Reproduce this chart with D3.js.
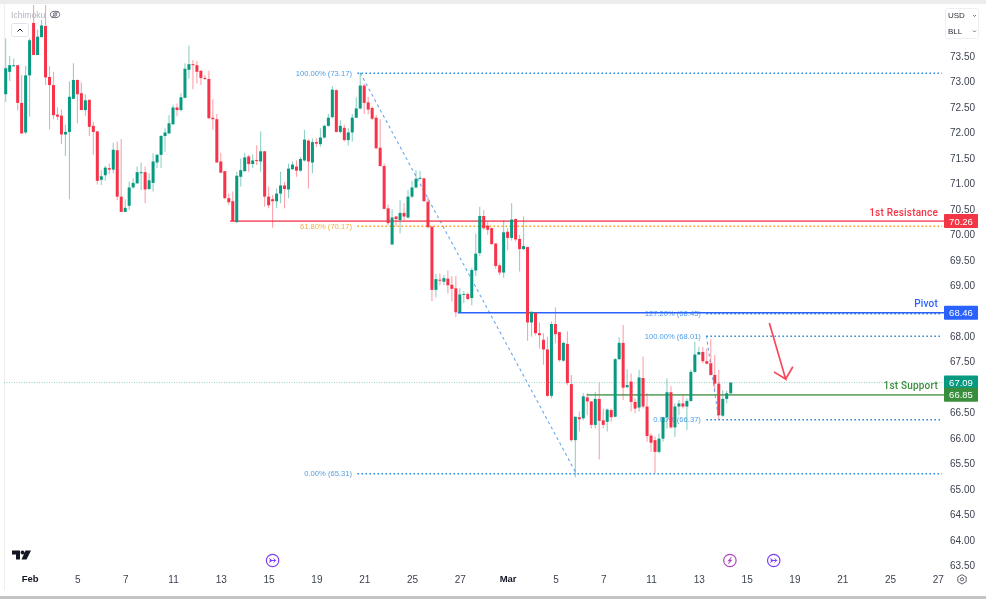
<!DOCTYPE html>
<html><head><meta charset="utf-8">
<script src="https://cdn.jsdelivr.net/npm/d3@7"></script>
<style>html,body{margin:0;padding:0;background:#fff;overflow:hidden}svg{display:block;filter:blur(.3px)}text{font-family:"Liberation Sans",Roboto,sans-serif}</style>
</head><body><svg id="c" width="986" height="599"></svg>
<script>
const opens=[72.75,73.19,73.30,73.32,72.58,72.00,73.12,74.15,73.52,73.87,74.09,73.09,72.93,72.35,72.33,71.96,72.01,72.66,73.03,72.77,72.44,72.64,72.13,72.02,71.07,71.16,71.30,71.27,71.65,70.74,70.44,70.56,70.92,71.00,71.21,71.22,70.89,71.01,71.41,71.56,71.93,71.98,72.16,72.49,72.44,72.68,73.23,73.34,73.32,73.21,73.07,73.05,72.29,72.26,71.43,71.24,70.71,70.65,70.24,71.13,71.24,71.53,71.38,71.46,71.43,71.63,70.74,70.69,70.65,70.80,70.96,70.88,71.28,71.33,71.25,71.45,71.84,71.41,71.81,71.77,71.90,72.13,72.30,72.83,72.01,72.09,71.85,72.00,72.29,72.47,72.92,72.59,72.48,72.29,71.70,71.34,70.51,69.80,70.35,70.28,70.42,70.33,70.74,70.92,71.10,71.10,70.64,70.15,68.91,69.11,69.07,69.13,69.01,68.94,68.47,68.82,68.83,68.75,69.29,69.63,70.36,70.17,70.12,69.82,69.39,69.25,70.05,69.93,70.30,69.91,69.71,69.75,68.27,68.46,68.06,67.93,67.74,66.83,68.24,68.08,67.52,67.85,67.06,65.96,66.41,66.39,66.80,66.72,66.26,66.77,66.35,66.32,66.55,66.42,67.55,67.87,67.00,67.11,66.71,66.60,67.18,66.62,66.05,65.96,65.73,65.99,66.41,66.90,66.21,66.62,66.68,66.62,66.73,67.30,67.64,67.69,67.51,67.47,67.24,67.07,66.44,66.77,66.88];
const highs=[73.85,73.50,73.45,73.32,73.13,73.31,73.85,74.50,74.02,74.21,74.50,73.30,73.19,72.49,72.45,72.15,73.00,73.36,73.04,72.98,72.75,72.65,72.21,72.03,71.26,71.34,71.39,71.80,71.82,71.87,70.69,71.03,71.10,71.33,71.41,71.33,71.20,71.59,71.58,71.95,72.08,72.34,72.55,72.57,72.77,73.36,73.70,73.42,73.40,73.23,73.13,73.21,72.65,72.36,71.60,71.24,70.80,70.84,71.23,71.49,71.60,71.56,71.56,71.75,72.02,71.64,70.94,70.77,70.90,71.23,71.03,71.39,71.43,71.45,71.52,72.05,71.86,71.88,71.88,72.08,72.15,72.36,72.91,72.85,72.24,72.15,72.08,72.36,72.69,73.16,72.96,72.70,72.51,72.34,72.26,71.39,70.58,70.49,70.36,70.67,70.61,70.87,71.05,71.26,71.25,71.10,70.74,70.16,69.22,69.23,69.20,69.29,69.18,69.18,68.94,68.89,68.86,69.35,70.01,70.54,70.48,70.25,70.14,69.82,69.43,70.28,70.12,70.61,70.31,69.99,70.35,69.76,68.48,68.46,68.27,68.06,67.99,68.29,68.57,68.09,67.89,68.10,67.24,66.42,66.52,66.88,66.88,66.72,66.91,67.08,66.58,66.58,66.58,67.57,67.98,68.22,67.35,67.27,66.78,67.34,67.60,66.88,66.09,66.03,66.09,66.42,67.17,67.02,66.68,66.75,66.85,66.78,67.34,67.89,67.79,67.79,67.76,67.94,67.63,67.34,66.94,66.93,67.09];
const lows=[72.60,73.01,73.29,72.43,71.98,71.96,72.31,73.52,73.52,73.87,72.93,72.06,72.26,72.24,71.77,71.54,70.69,72.66,72.18,72.44,72.33,71.93,71.56,70.98,70.97,71.05,71.18,71.20,70.67,70.44,70.44,70.48,70.90,71.00,70.87,70.61,70.87,70.84,71.30,71.30,71.62,71.98,72.15,72.32,72.41,72.67,73.06,72.85,72.96,72.93,73.03,72.26,72.05,71.41,71.20,70.69,70.58,70.25,70.22,70.94,71.23,71.23,71.30,71.36,71.23,70.54,70.51,70.13,70.51,70.61,70.51,70.71,71.26,71.13,71.23,71.43,70.90,71.20,71.72,71.72,71.88,72.11,72.28,72.00,71.98,71.82,71.74,71.82,72.28,72.45,72.36,72.36,72.24,71.67,71.33,70.49,70.18,69.80,70.16,70.02,70.28,70.31,70.71,70.90,71.07,70.64,70.12,68.69,68.76,69.00,69.00,68.84,68.68,68.37,68.45,68.65,68.71,68.61,69.18,69.57,70.09,69.99,69.79,69.33,69.20,69.15,69.69,69.88,69.86,69.27,69.69,67.91,67.99,68.02,67.76,67.44,66.81,66.78,67.86,67.50,67.50,67.04,65.93,65.23,66.13,66.35,66.45,66.19,66.19,65.58,66.19,66.13,66.32,66.41,67.53,66.75,66.98,66.52,66.49,66.52,66.58,65.93,65.73,65.31,65.70,65.93,66.19,66.19,66.02,66.45,66.58,66.16,66.71,67.28,67.63,67.47,67.45,67.23,66.94,66.37,66.42,66.68,66.87];
const closes=[73.26,73.32,73.32,72.58,71.98,73.12,73.81,73.52,73.88,74.10,73.08,72.93,72.34,72.31,71.96,72.01,72.70,73.03,72.75,72.44,72.63,72.11,72.01,71.05,71.14,71.31,71.27,71.66,70.74,70.44,70.52,70.92,71.01,71.22,71.22,70.88,71.06,71.43,71.56,71.93,72.00,72.18,72.49,72.44,72.69,73.25,73.34,73.32,73.19,73.07,73.05,72.28,72.26,71.41,71.21,70.71,70.63,70.26,71.15,71.26,71.51,71.38,71.45,71.45,71.63,70.74,70.57,70.65,70.80,70.96,70.89,71.29,71.37,71.25,71.48,71.86,71.43,71.81,71.78,71.90,72.13,72.29,72.84,72.01,72.13,71.85,72.00,72.29,72.47,72.92,72.58,72.45,72.27,71.69,71.34,70.50,70.22,70.33,70.30,70.42,70.35,70.74,70.92,71.09,71.11,70.65,70.14,68.91,69.12,69.09,69.14,69.00,68.93,68.47,68.82,68.83,68.73,69.30,69.62,70.36,70.12,70.09,69.81,69.38,69.25,70.04,69.93,70.29,69.90,69.71,69.77,68.27,68.48,68.06,68.02,67.74,66.83,68.24,68.04,67.53,67.87,67.08,65.96,66.42,66.37,66.82,66.72,66.26,66.77,66.34,66.26,66.56,66.41,67.55,67.87,66.99,67.04,66.71,66.58,67.19,66.62,66.04,65.91,65.73,65.99,66.41,66.90,66.21,66.62,66.68,66.62,66.73,67.30,67.64,67.69,67.51,67.46,67.24,67.07,66.45,66.77,66.88,67.09];

const priceTicks=[73.5,73,72.5,72,71.5,71,70.5,70,69.5,69,68,67.5,66.5,66,65.5,65,64.5,64,63.5];
const timeIdx=[6,18,30,42,54,66,78,90,102,114,126,138,150,162,174,186,198,210,222,234];
const timeLabels=["Feb","5","7","11","13","15","19","21","25","27","Mar","5","7","11","13","15","19","21","25","27"];
const fibPrices=[73.17,70.17,65.31,68.45,68.01,66.37];
const fibText=["100.00% (73.17)","61.80% (70.17)","0.00% (65.31)","127.20% (68.45)","100.00% (68.01)","0.00% (66.37)"];
const fibStart=[88.3,88.3,88.3,175.9,175.9,175.9];
const fibColors=["#2f8de4","#f0a020","#2f8de4","#2f8de4","#2f8de4","#2f8de4"];
const levelPrices=[70.26,68.46,66.85];
const levelNames=["1st Resistance","Pivot","1st Support"];
const levelStart=[56.3,113.5,145.9];
const levelColors=["#f23645","#2962ff","#388e3c"];
const lastPrice=67.09;
const diagonals=[[89,73.17,143.2,65.31],[175.9,68.01,179,66.37]];
const arrowPts=[[191.7,68.26],[195.8,67.16],[192.85,67.30],[195.8,67.16],[197.6,67.40]];
const markerIdx=[67,181.8,192.8];
const markerColors=["#7e3ff2","#ab47bc","#7e3ff2"];

const x=d3.scaleLinear().domain([0,182]).range([5.7,730.7]);
const y=d3.scaleLinear().domain([73,64]).range([81.5,540]);
const svg=d3.select("#c");
const defs=svg.append("defs");
defs.append("clipPath").attr("id","plot").append("rect").attr("x",4).attr("y",5).attr("width",941).attr("height",563);
defs.append("clipPath").attr("id","pa").append("rect").attr("x",945).attr("y",40).attr("width",41).attr("height",529);

svg.append("rect").attr("width",986).attr("height",4).attr("fill","#ececec");
svg.append("rect").attr("y",596).attr("width",986).attr("height",3).attr("fill","#c4c4c4");
svg.append("line").attr("x1",4.5).attr("x2",4.5).attr("y1",4).attr("y2",590).attr("stroke","#eeeeee");

const plot=svg.append("g").attr("clip-path","url(#plot)");
// fib
plot.selectAll(".diag").data(diagonals).join("line").attr("x1",d=>x(d[0])).attr("y1",d=>y(d[1])).attr("x2",d=>x(d[2])).attr("y2",d=>y(d[3]))
 .attr("stroke","#6aa8ec").attr("stroke-width",1.1).attr("stroke-dasharray","3 3");
plot.selectAll(".fib").data(fibPrices).join("line").attr("x1",(d,i)=>x(fibStart[i])).attr("x2",942).attr("y1",d=>y(d)+.5).attr("y2",d=>y(d)+.5)
 .attr("stroke",(d,i)=>fibColors[i]).attr("stroke-width",1.5).attr("stroke-dasharray","1.6 2.4");
plot.selectAll(".fibt").data(fibPrices).join("text").attr("x",(d,i)=>x(fibStart[i])-5.5).attr("y",d=>y(d)+3).attr("text-anchor","end")
 .attr("font-size",7.6).attr("fill",(d,i)=>fibColors[i]).attr("fill-opacity",.85).text((d,i)=>fibText[i]);
// current price
plot.append("line").attr("x1",4).attr("x2",945).attr("y1",y(lastPrice)).attr("y2",y(lastPrice)).attr("stroke","#089981").attr("stroke-opacity",.45).attr("stroke-dasharray","1 1.5");
// levels
plot.selectAll(".lvl").data(levelPrices).join("line").attr("x1",(d,i)=>x(levelStart[i])).attr("x2",945).attr("y1",d=>y(d)).attr("y2",d=>y(d))
 .attr("stroke",(d,i)=>levelColors[i]).attr("stroke-width",(d,i)=>i==1?1.6:1.8).attr("stroke-opacity",(d,i)=>i==1?1:.75);
plot.selectAll(".lvlt").data(levelPrices).join("text").attr("x",938).attr("y",d=>y(d)-5.5).attr("text-anchor","end")
 .attr("font-size",10).attr("font-weight",500).style("font-family","Roboto").attr("letter-spacing",.2).attr("fill",(d,i)=>levelColors[i]).text((d,i)=>levelNames[i]);
// candles
const idx=d3.range(opens.length);
const col=i=>closes[i]>=opens[i]?"#089981":"#f7334a";
const g=plot.append("g");
g.selectAll(".w").data(idx).join("line").attr("x1",i=>x(i)).attr("x2",i=>x(i)).attr("y1",i=>y(highs[i])).attr("y2",i=>y(lows[i]))
 .attr("stroke",col).attr("stroke-opacity",.45).attr("stroke-width",1.1);
g.selectAll(".b").data(idx).join("rect").attr("x",i=>x(i)-1.5).attr("width",3)
 .attr("y",i=>y(Math.max(opens[i],closes[i]))).attr("height",i=>Math.max(1,Math.abs(y(opens[i])-y(closes[i])))).attr("fill",col);
// arrow
plot.append("path").attr("d",d3.line().x(d=>x(d[0])).y(d=>y(d[1]))(arrowPts)).attr("fill","none").attr("stroke","#f7334a").attr("stroke-width",1.7).attr("stroke-opacity",.9);

// price axis
const pa=svg.append("g").attr("clip-path","url(#pa)");
const yAxis=d3.axisRight(y).tickValues(priceTicks).tickSize(0).tickPadding(0).tickFormat(d3.format(".2f"));
const yg=pa.append("g").attr("transform","translate(950,0)").call(yAxis);
yg.select(".domain").remove();
yg.selectAll("text").attr("font-size",10).attr("font-family",'"Liberation Sans"').attr("fill","#3d4250");

// price tags
const tagP=[70.26,68.46,67.09,66.85];
const tagC=["#f23645","#2962ff","#089981","#388e3c"];
const tags=svg.append("g");
tags.selectAll("rect").data(tagP).join("rect").attr("x",944).attr("width",34).attr("height",14).attr("y",d=>y(d)-7).attr("rx",1).attr("fill",(d,i)=>tagC[i]);
tags.selectAll("text").data(tagP).join("text").attr("x",961).attr("y",d=>y(d)+3.5).attr("text-anchor","middle").attr("font-size",9.5).attr("fill","#fff").text(d=>d.toFixed(2));

// time axis
const xAxis=d3.axisBottom(x).tickValues(timeIdx).tickSize(0).tickPadding(0).tickFormat((d,i)=>timeLabels[i]);
const xg=svg.append("g").attr("transform","translate(0,575.5)").call(xAxis);
xg.select(".domain").remove();
xg.selectAll("text").attr("font-size",10).attr("font-family",'"Liberation Sans"').attr("fill","#3d4250")
 .attr("font-size",(d,i)=>timeLabels[i]=="Feb"||timeLabels[i]=="Mar"?9.5:10)
 .attr("font-weight",(d,i)=>timeLabels[i]=="Feb"||timeLabels[i]=="Mar"?"bold":null).style("fill",(d,i)=>timeLabels[i]=="Feb"||timeLabels[i]=="Mar"?"#131722":null);

// event markers
const mk=svg.append("g");
mk.selectAll("circle").data(markerIdx).join("circle").attr("cx",d=>x(d)).attr("cy",560.5).attr("r",6.2).attr("fill","#fff").attr("stroke",(d,i)=>markerColors[i]).attr("stroke-width",1.2);
mk.selectAll("path").data(markerIdx).join("path").attr("transform",d=>`translate(${x(d)},560.5)`)
 .attr("d",(d,i)=>i==1?"M1.5,-3.5L-2,0.6H0L-1.5,3.5L2,-0.6H0Z":"M-3.5,-2L-0.5,0L-3.5,2M-3,0H3M1,-2L3,0L1,2")
 .attr("fill",(d,i)=>i==1?markerColors[i]:"none").attr("stroke",(d,i)=>markerColors[i]).attr("stroke-width",(d,i)=>i==1?.5:1);

// TV logo
svg.append("path").attr("d","M12,550.5H20V559.5H16V554.5H12ZM22.5,550.6a1.9,1.9 0 1 0 .01,0ZM25.5,550.5H31L26.5,559.5H21.5Z").attr("fill","#131722");

// settings icon
svg.append("path").attr("d","M962,574.6L966.2,577V581.6L962,584L957.8,581.6V577Z").attr("fill","none").attr("stroke","#50535e").attr("stroke-width",.9);
svg.append("circle").attr("cx",962).attr("cy",579.3).attr("r",1.6).attr("fill","none").attr("stroke","#50535e").attr("stroke-width",.9);

// legend
svg.append("text").attr("x",11).attr("y",17.5).attr("font-size",8.6).attr("fill","#b2b5be").text("Ichimoku");
const eye=svg.append("g").attr("transform","translate(55,14.5)").attr("fill","none").attr("stroke","#6a6d78").attr("stroke-width",1);
eye.append("ellipse").attr("rx",4.6).attr("ry",3.2);
eye.append("circle").attr("r",1.7);
eye.append("line").attr("x1",-3.5).attr("y1",3.5).attr("x2",3.5).attr("y2",-3.5);
svg.append("rect").attr("x",11.5).attr("y",23.5).attr("width",17).attr("height",13).attr("rx",2).attr("fill","#fff").attr("fill-opacity",.9).attr("stroke","#e0e3eb");
svg.append("path").attr("d","M17.5,31.5L20,29L22.5,31.5").attr("fill","none").attr("stroke","#131722").attr("stroke-width",1);

// top-right currency
svg.append("rect").attr("x",945.5).attr("y",8.5).attr("width",33).attr("height",30).attr("rx",2).attr("fill","#fff").attr("stroke","#eeeff2");
svg.selectAll(".cur").data(["USD","BLL"]).join("text").attr("x",948).attr("y",(d,i)=>18+i*15.5).attr("font-size",8).attr("fill","#2a2e39").text(d=>d);
svg.selectAll(".chev").data([15,30.5]).join("path").attr("d",d=>`M973,${d}L974.5,${d+1.5}L976,${d}`).attr("fill","none").attr("stroke","#50535e").attr("stroke-width",.8);
</script></body></html>
